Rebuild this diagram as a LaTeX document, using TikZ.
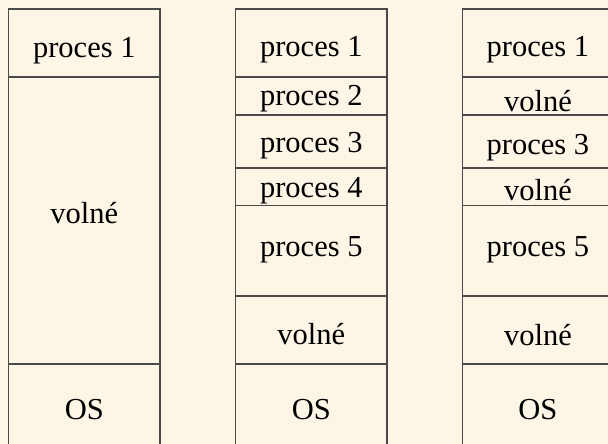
\documentclass[tikz,border=0pt]{standalone}
\usepackage{fontspec}
\setmainfont{Liberation Serif}[Ligatures=TeX]
\newfontfamily\tms{Liberation Serif}
\definecolor{bgc}{HTML}{FDF5E6}
\definecolor{linec}{HTML}{4A4A4A}
\begin{document}
\begin{tikzpicture}[x=1pt,y=-1pt,
  cell/.style={draw=linec,line width=1.2pt},
  lbl/.style={anchor=base,inner sep=0pt,font=\tms\fontsize{30.5}{36}\selectfont,text=black}]
\useasboundingbox[fill=bgc] (0,0) rectangle (608,444);
\clip (0,0) rectangle (608,444);
% column 1
\draw[cell] (8.7,9) rectangle (160,77);
\draw[cell] (8.7,77) rectangle (160,364);
\draw[cell] (8.7,364) rectangle (160,470);
\node[lbl] (a1) at (84.3,57.5) {proces 1};
\node[lbl] (a2) at (84.3,223) {volné};
\node[lbl] (a3) at (84.3,419.3) {OS};
% column 2
\foreach \t/\b in {9/77,77/115,115/168,168/205.7,205.7/296,296/364,364/470}
  \draw[cell] (235.7,\t) rectangle (387,\b);
\node[lbl] (b1) at (311.3,56.5) {proces 1};
\node[lbl] (b2) at (311.3,105) {proces 2};
\node[lbl] (b3) at (311.3,152) {proces 3};
\node[lbl] (b4) at (311.3,197.5) {proces 4};
\node[lbl] (b5) at (311.3,256.7) {proces 5};
\node[lbl] (b6) at (311.3,344.5) {volné};
\node[lbl] (b7) at (311.3,419.3) {OS};
% column 3
\foreach \t/\b in {9/77,77/115,115/168,168/205.7,205.7/296,296/364,364/470}
  \draw[cell] (462.3,\t) rectangle (613.6,\b);
\node[lbl] (c1) at (537.9,56.5) {proces 1};
\node[lbl] (c2) at (537.9,111) {volné};
\node[lbl] (c3) at (537.9,154.5) {proces 3};
\node[lbl] (c4) at (537.9,200.5) {volné};
\node[lbl] (c5) at (537.9,256.7) {proces 5};
\node[lbl] (c6) at (537.9,345) {volné};
\node[lbl] (c7) at (537.9,419.3) {OS};
\end{tikzpicture}
\end{document}
